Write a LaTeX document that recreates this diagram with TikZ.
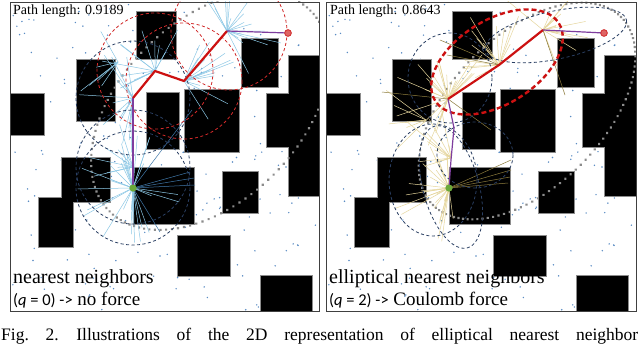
\documentclass[tikz,border=0pt]{standalone}
\usepackage{fontspec}
\setmainfont{Liberation Serif}
\newfontfamily\calfont{Carlito}
\usetikzlibrary{calc}
\definecolor{sky}{HTML}{8CC8E6}
\definecolor{deepsky}{HTML}{3F77A8}
\definecolor{sand}{HTML}{E6D69C}
\definecolor{olive}{HTML}{8C7B3C}
\definecolor{navy}{HTML}{2A3F63}
\definecolor{pathred}{HTML}{CC1111}
\definecolor{plum}{HTML}{7E3D9E}
\definecolor{dotblue}{HTML}{5A8CC4}
\definecolor{ringgrey}{HTML}{8C8C8C}
\definecolor{startgreen}{HTML}{6AA83A}
\tikzset{
  dotpt/.style={fill=dotblue},
  blueedge/.style={draw=sky,line width=0.5pt},
  darkblueedge/.style={draw=deepsky,line width=0.5pt},
  sandedge/.style={draw=sand,line width=0.5pt},
  oliveedge/.style={draw=olive,line width=0.5pt},
  navyring/.style={draw=navy,line width=0.8pt,dash pattern=on 3pt off 2.5pt},
  redring/.style={draw=pathred!90,line width=0.8pt,dash pattern=on 3pt off 2.5pt},
  redfatring/.style={draw=pathred,line width=2.4pt,dash pattern=on 5pt off 3pt},
  redpath/.style={draw=pathred,line width=2.2pt,line join=round},
  plumpath/.style={draw=plum,line width=1.2pt,line join=round},
  startpt/.style={circle,fill=startgreen,inner sep=0pt,minimum size=7pt},
  goalpt/.style={circle,draw=pathred!85,fill=pathred!65,line width=0.8pt,inner sep=0pt,minimum size=6.5pt},
  panelframe/.style={draw=black!75,line width=0.8pt},
  lenlbl/.style={font=\fontsize{14}{16}\selectfont,anchor=base west,inner sep=0pt},
  namelbl/.style={font=\fontsize{20}{22}\selectfont,anchor=base west,inner sep=0pt},
  qlbl/.style={font=\fontsize{19}{21}\selectfont,anchor=base west,inner sep=0pt}
}
% obstacles of the map, in panel coordinates (pixels, y down)
\newcommand{\obstacles}{%
  \foreach \xa/\ya/\xb/\yb in {137/12/176/59,77/60/115/121,11/94/44/135,147/93/179/149,
      185/90/239/152,242/39/278/87,289/56/321/196,267/94/290/147,62/158/110/202,
      39/198/73/247,134/168/194/224,223/172/258/213,178/236/230/276,261/276/312/312}
    {\fill[black!45] (\xa-0.8,\ya-0.8) rectangle (\xb+0.8,\yb+0.8);}
  \foreach \xa/\ya/\xb/\yb in {137/12/176/59,77/60/115/121,11/94/44/135,147/93/179/149,
      185/90/239/152,242/39/278/87,289/56/321/196,267/94/290/147,62/158/110/202,
      39/198/73/247,134/168/194/224,223/172/258/213,178/236/230/276,261/276/312/312}
    {\fill[black] (\xa,\ya) rectangle (\xb,\yb);}}
\newcommand{\samples}{%
  \pgfmathsetseed{4711}
  \foreach \k in {1,...,210}
    {\pgfmathsetmacro\px{12+rnd*306}\pgfmathsetmacro\py{4+rnd*306}
     \fill[dotpt] (\px,\py) circle (0.8);}}
% informed set: dotted ellipse, major axis at 45 degrees
\newcommand{\informed}[4]{%
  \begin{scope}[shift={(#1,#2)},rotate=45]
    \foreach \ia in {0,3,...,357}
      \fill[ringgrey] ({#3*cos(\ia)},{#4*sin(\ia)}) circle (1.5);
  \end{scope}}
% fans of tree edges: x/y/count/first angle/sweep
\newcommand{\fans}[2]{%
  \foreach \hx/\hy/\n/\a/\s in {#2}
    {\foreach \k in {1,...,\n}
      {\pgfmathsetmacro\ang{-(\a+rnd*\s)}\pgfmathsetmacro\len{12+rnd*46}
       \draw[#1] (\hx,\hy) -- ++(\ang:\len);}}}

\begin{document}
\begin{tikzpicture}[x=1pt,y=-1pt]
  \useasboundingbox (0,0) rectangle (640,345);
  \fill[white] (0,0) rectangle (640,345);

  % left panel: nearest neighbors
  \begin{scope}
    \clip (10,2) rectangle (319,311);
    \samples
    \obstacles
    \informed{210}{111}{142}{90}
    \pgfmathsetseed{99}
    \fans{blueedge}{133/188/30/60/300,133/167/8/90/120,133/98/16/90/180,155/71/12/60/160,184/81/14/-60/130,227/31/18/-70/200,118/62/6/100/160}
    \foreach \ex/\ey in {194/178,195/185,190/172,160/232,192/110}
      \draw[darkblueedge] (133,188) -- (\ex,\ey);
    \foreach \cx/\cy in {133/188,133/167,133/98}
      \draw[navyring] (\cx,\cy) circle (57);
    \foreach \cx/\cy in {155/71,184/81,229/32}
      \draw[redring] (\cx,\cy) circle (58);
    \coordinate (a1) at (133,167);
    \coordinate (a2) at (133,98);
    \coordinate (a3) at (155,71);
    \coordinate (a4) at (184,81);
    \coordinate (a5) at (227,31);
    \node[startpt] (s1) at (133,188) {};
    \node[goalpt] (g1) at (288,33) {};
    \draw[plumpath] (s1.center) -- (a1) -- (a2);
    \draw[redpath] (a2) -- (a3) -- (a4) -- (a5);
    \draw[plumpath] (a5) -- (g1.center);
    \node[startpt] at (s1) {};
    \node[goalpt] at (g1) {};
  \end{scope}
  \draw[panelframe] (10,2) rectangle (319,311);
  \node[lenlbl] (len1) at (13,15) {Path length: 0.9189};
  \node[namelbl] (nm1) at (13,283) {nearest neighbors};
  \node[qlbl] (q1) at (13,305) {{\calfont\fontsize{16.5}{18}\selectfont(\textit{q} = 0) -{}>} no force};

  % right panel: elliptical nearest neighbors
  \begin{scope}[xshift=316]
    \clip (10,2) rectangle (320,311);
    \samples
    \obstacles
    \informed{211}{111}{133}{76}
    \pgfmathsetseed{123}
    \fans{sandedge}{133/188/26/80/200,135/158/10/90/120,132/99/24/40/220,183/65/14/60/150,227/30/16/-80/230,110/120/6/90/180}
    \foreach \ex/\ey in {195/160,195/170,194/177,192/183}
      \draw[oliveedge] (133,188) -- (\ex,\ey);
    \draw[oliveedge] (132,99) -- (66,92);
    \draw[oliveedge] (132,99) -- (175,130);
    \draw[oliveedge] (183,65) -- (124,40);
    \draw[oliveedge] (183,65) -- (131,55);
    \draw[oliveedge] (227,30) -- (249,95);
    \draw[navyring] (117,180) ellipse [x radius=44,y radius=56];
    \draw[navyring,rotate around={15:(135,187)}] (135,187) ellipse [x radius=28,y radius=63];
    \draw[navyring] (159,155) ellipse [x radius=38,y radius=33];
    \draw[navyring] (134,78) ellipse [x radius=42,y radius=45];
    \draw[navyring,rotate around={12:(240,35)}] (240,35) ellipse [x radius=72,y radius=24];
    \draw[redfatring,rotate around={32:(181,62)}] (181,62) ellipse [x radius=73,y radius=42];
    \coordinate (b1) at (135,160);
    \coordinate (b2) at (138,128);
    \coordinate (b3) at (132,99);
    \coordinate (b4) at (183,65);
    \coordinate (b5) at (227,30);
    \node[startpt] (s2) at (133,188) {};
    \node[goalpt] (g2) at (288,33) {};
    \draw[plumpath] (s2.center) -- (b1) -- (b2) -- (b3);
    \draw[redpath] (b3) -- (b4) -- (b5);
    \draw[plumpath] (b5) -- (g2.center);
    \node[startpt] at (s2) {};
    \node[goalpt] at (g2) {};
  \end{scope}
  \draw[panelframe] (326,2) rectangle (636,311);
  \node[lenlbl] (len2) at (330,15) {Path length: 0.8643};
  \node[namelbl] (nm2) at (329,283) {elliptical nearest neighbors};
  \node[qlbl] (q2) at (329,305) {{\calfont\fontsize{16.5}{18}\selectfont(\textit{q} = 2) -{}>} Coulomb force};

  % caption
  \node[anchor=base west,inner sep=0pt,font=\fontsize{17.5}{19}\selectfont] (cap) at (1,340)
    {\makebox[637pt][s]{Fig.~2.\quad Illustrations of the 2D representation of elliptical nearest neighbor}};
\end{tikzpicture}
\end{document}
